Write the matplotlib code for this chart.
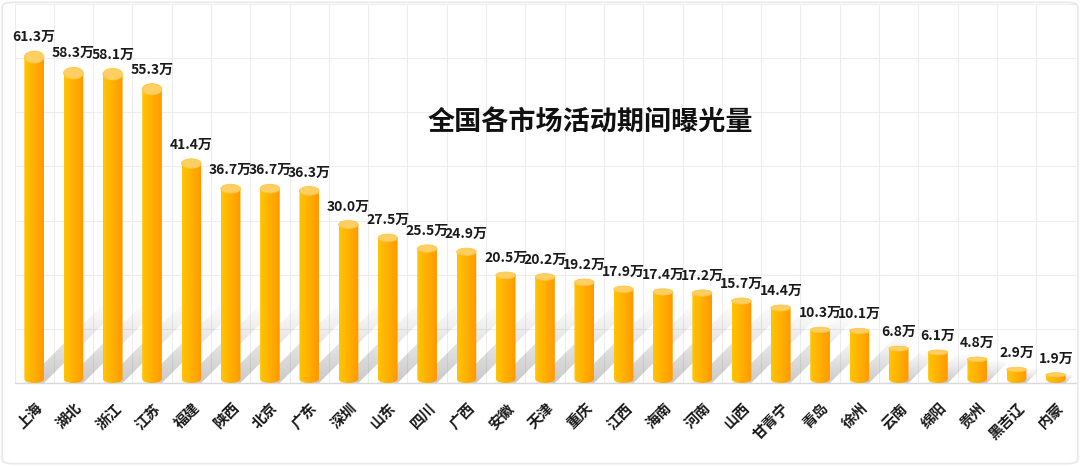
import numpy as np
import matplotlib
matplotlib.use("Agg")
import matplotlib.pyplot as plt
from matplotlib.path import Path
from matplotlib.patches import PathPatch, Ellipse, Polygon, FancyBboxPatch
from matplotlib.colors import LinearSegmentedColormap

plt.rcParams['font.family'] = ['Noto Sans CJK SC', 'DejaVu Sans']

regions = ['上海', '湖北', '浙江', '江苏', '福建', '陕西', '北京', '广东', '深圳', '山东',
           '四川', '广西', '安徽', '天津', '重庆', '江西', '海南', '河南', '山西', '甘青宁',
           '青岛', '徐州', '云南', '绵阳', '贵州', '黑吉辽', '内蒙']
values = [61.3, 58.3, 58.1, 55.3, 41.4, 36.7, 36.7, 36.3, 30.0, 27.5,
          25.5, 24.9, 20.5, 20.2, 19.2, 17.9, 17.4, 17.2, 15.7, 14.4,
          10.3, 10.1, 6.8, 6.1, 4.8, 2.9, 1.9]
title = '全国各市场活动期间曝光量'

fig = plt.figure(figsize=(10.8, 4.66), dpi=100)
ax = fig.add_axes([14.5 / 1080, 83 / 466, 1061 / 1080, 379 / 466])

n = len(values)
ax.set_xlim(-0.5, n - 0.5)
ax.set_ylim(0, 70)

# pixel -> data scale (for cap / shadow shapes)
py = 70 / 379.0
px = n / 1061.0

bar_cmap = LinearSegmentedColormap.from_list('bar', ['#FFC400', '#FFB000', '#FF9800'])
grad = np.linspace(0, 1, 64).reshape(1, -1)
w = 0.5

# vertical fading gray for the cast shadows (row 0 = top)
sh = np.zeros((64, 8, 4))
sh[..., :3] = 0.45
sh[..., 3] = (np.linspace(0.0, 1.0, 64) ** 1.1 * 0.38)[:, None]
# soften the sides
sh[:, 0, 3] *= 0.4
sh[:, -1, 3] *= 0.4

for i, v in enumerate(values):
    x0, x1 = i - w / 2, i + w / 2

    # shadow, leaning up-right behind the bar
    L = min(85, v / py * 0.9)
    dy, dx = L * py, L * px
    spoly = Polygon([(x0, 0), (x1, 0), (x1 + dx, dy), (x0 + dx, dy)],
                    closed=True, facecolor='none', edgecolor='none', lw=0)
    ax.add_patch(spoly)
    sim = ax.imshow(sh, extent=[x0, x1 + dx, 0, dy], aspect='auto', zorder=1,
                    interpolation='bilinear', origin='upper')
    sim.set_clip_path(spoly)

    hc = (4 + 8 * v / max(values)) * py   # top cap height
    hb = 4 * py                            # bottom rounding
    top = v - hc / 2
    t = np.linspace(np.pi, 2 * np.pi, 30)
    arc = [(i + w / 2 * np.cos(a), hb + hb * np.sin(a)) for a in t]
    verts = [(x0, top)] + [(x0, hb)] + arc + [(x1, top), (x0, top)]
    codes = [Path.MOVETO] + [Path.LINETO] * (len(verts) - 2) + [Path.CLOSEPOLY]
    body = PathPatch(Path(verts, codes), facecolor='none', lw=0)
    ax.add_patch(body)
    im = ax.imshow(grad, cmap=bar_cmap, extent=[x0, x1, 0, top], aspect='auto',
                   zorder=3, interpolation='bicubic')
    im.set_clip_path(body)
    cap = Ellipse((i, top), w, hc, facecolor='#FFCF62', edgecolor='#FFC548', lw=0.6, zorder=4)
    ax.add_patch(cap)
    ax.annotate(f'{v:.1f}万', (i, v), xytext=(0, 5), textcoords='offset points',
                ha='center', va='bottom', fontsize=10, fontweight='bold', color='#1a1a1a',
                zorder=5)

ax.set_xlim(-0.5, n - 0.5)
ax.set_ylim(0, 70)

ax.set_yticks(np.arange(0, 71, 10))
ax.set_yticklabels([])
ax.set_xticks(np.arange(n))
ax.set_xticklabels(regions, rotation=45, ha='right', rotation_mode='anchor',
                   fontsize=10.5, fontweight='bold', color='#1a1a1a')
ax.set_xticks(np.arange(-0.5, n, 1), minor=True)
ax.tick_params(axis='both', which='both', length=0)
ax.tick_params(axis='x', which='major', pad=12)
ax.grid(axis='y', which='major', color='#EDEDED', lw=0.8)
ax.grid(axis='x', which='minor', color='#EDEDED', lw=0.8)
ax.grid(axis='x', which='major', visible=False)
ax.set_axisbelow(True)
for s in ['top', 'right', 'left']:
    ax.spines[s].set_visible(False)
ax.spines['bottom'].set_color('#D9D9D9')
ax.spines['bottom'].set_linewidth(1.0)

ax.text(0.543, 0.686, title, transform=ax.transAxes, ha='center', va='center',
        fontsize=19.5, fontweight='bold', color='#111111', zorder=6)

fig.patches.append(FancyBboxPatch((0.002, 0.005), 0.996, 0.99, boxstyle='round,pad=0,rounding_size=0.01',
                                  transform=fig.transFigure, facecolor='none',
                                  edgecolor='#E8E8E8', lw=1.2, zorder=0))

fig.savefig('out.png', dpi=100, facecolor='white')
